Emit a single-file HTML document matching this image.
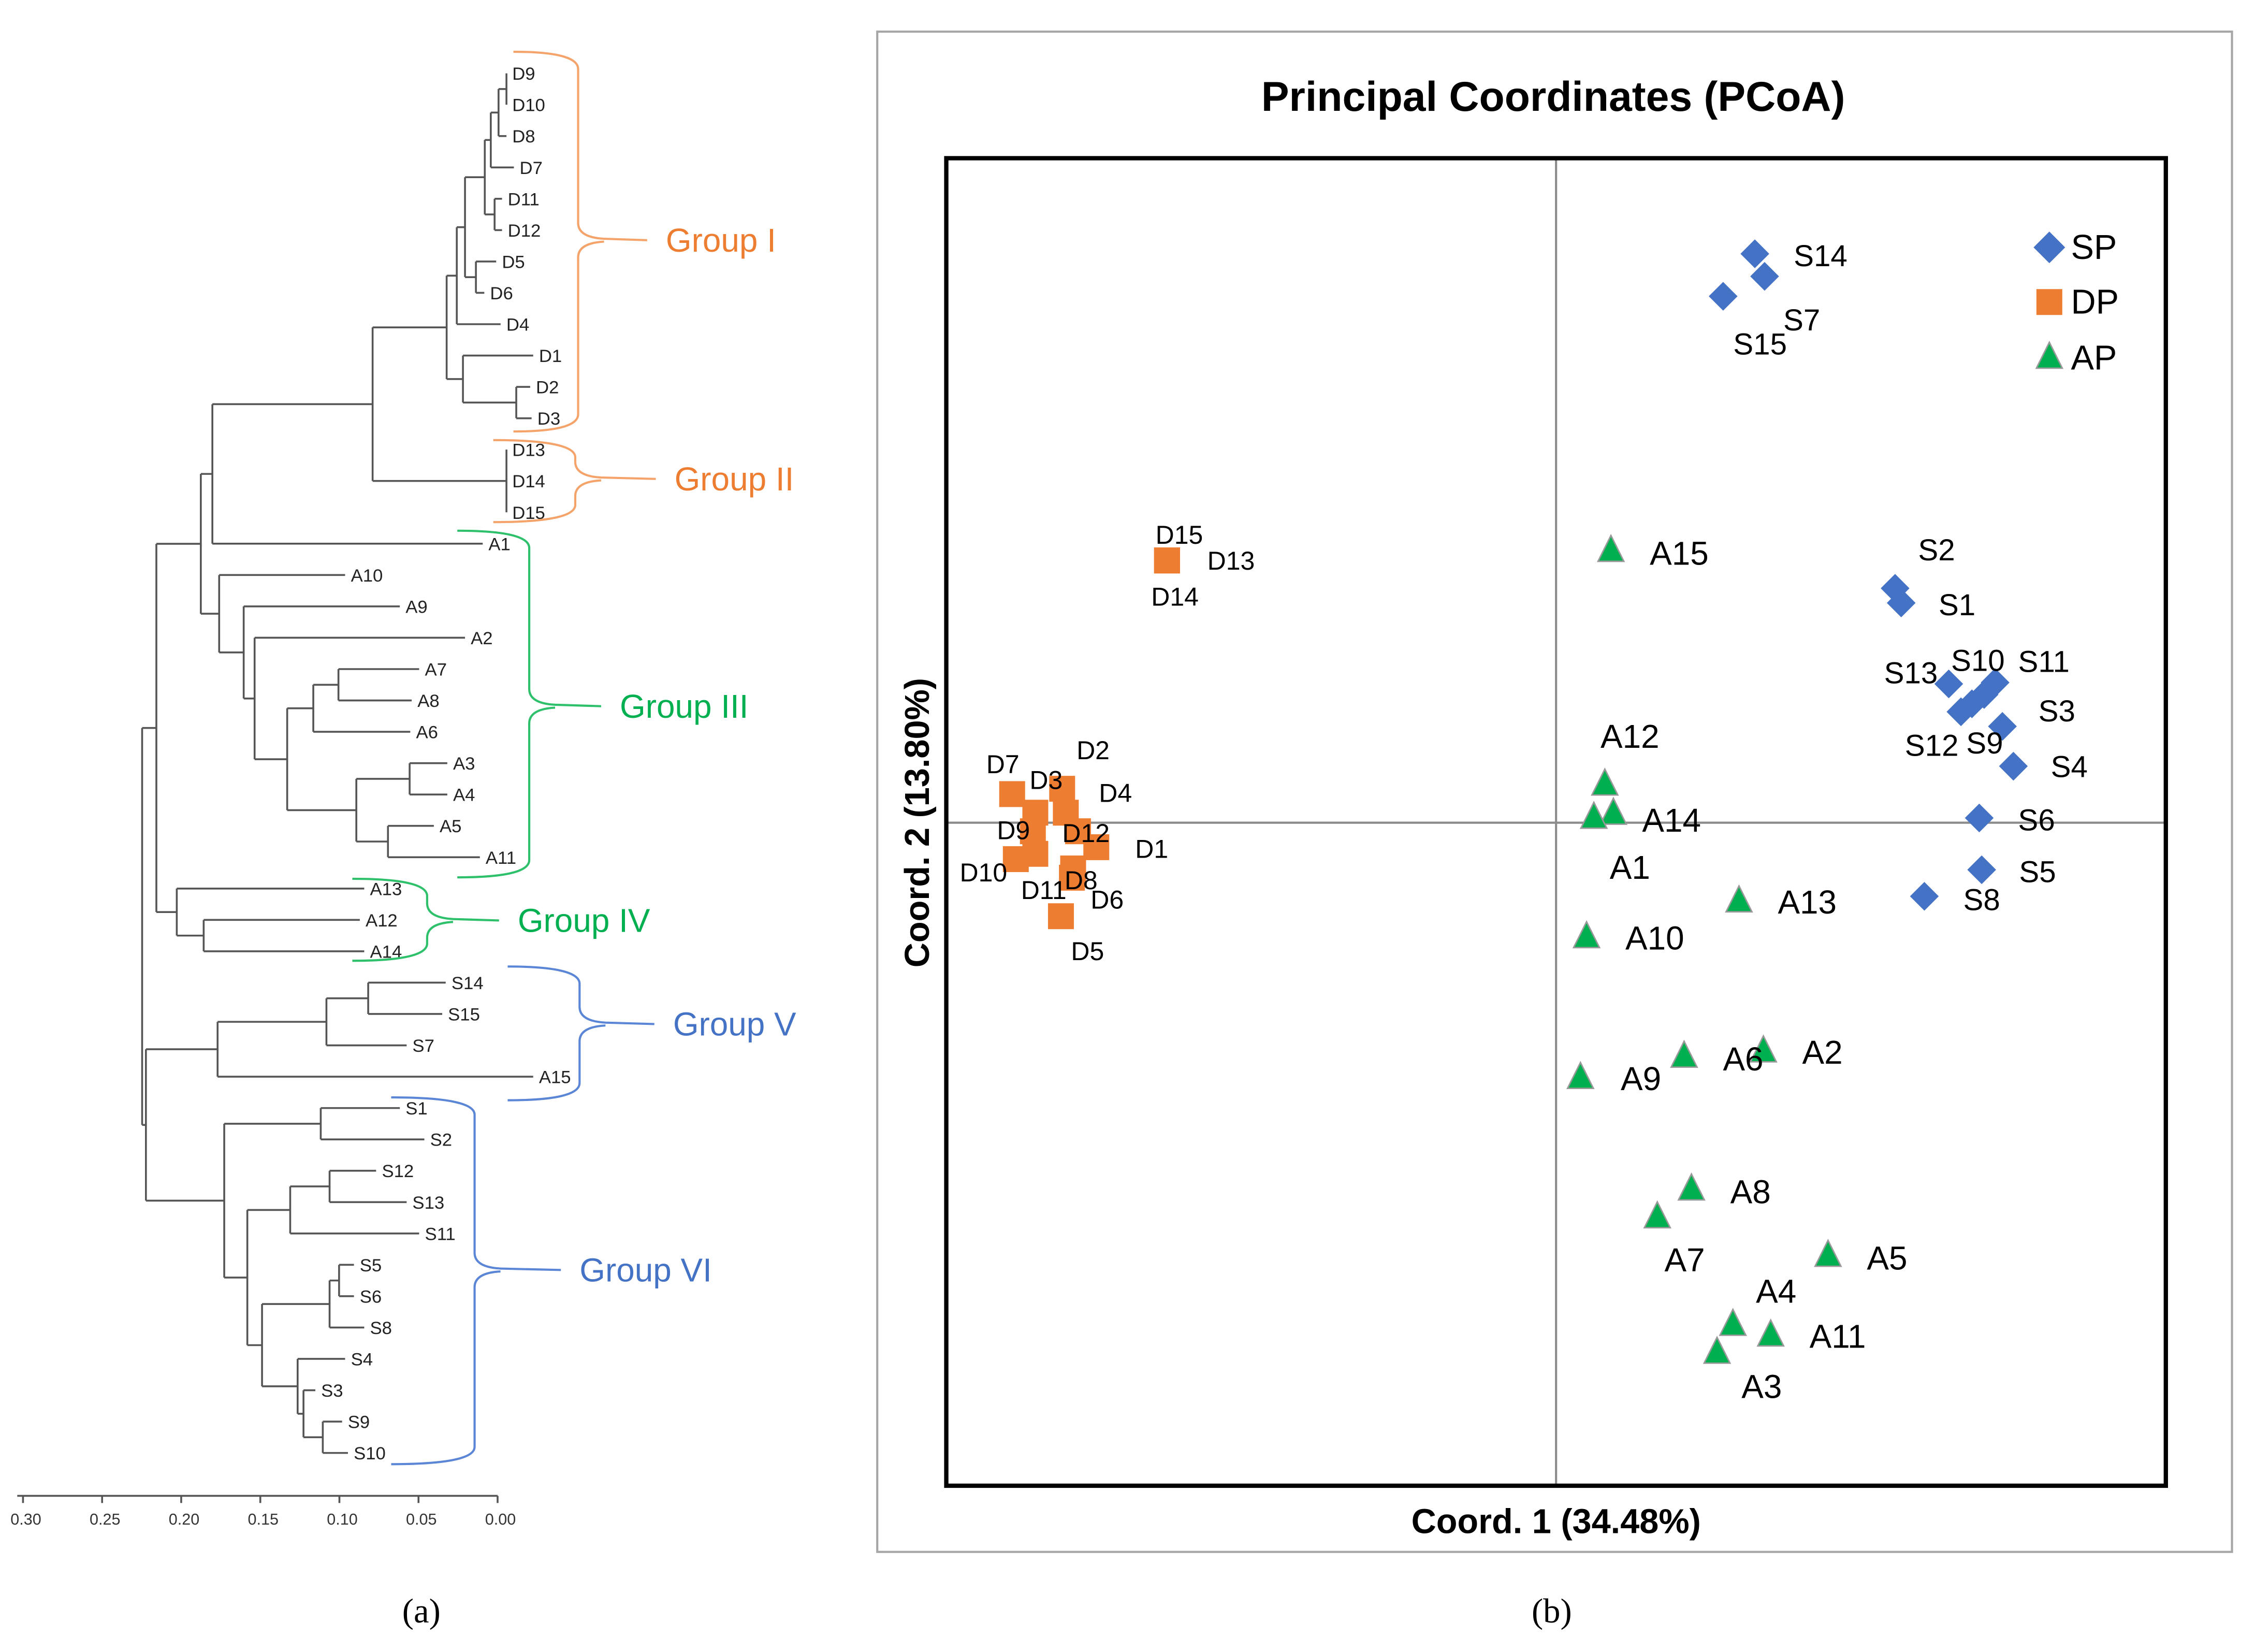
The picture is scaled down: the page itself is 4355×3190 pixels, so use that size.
<!DOCTYPE html>
<html><head><meta charset="utf-8"><style>
html,body{margin:0;padding:0;background:#fff;}
svg{display:block;font-family:"Liberation Sans",sans-serif;}
</style></head><body>
<svg id="fig" xmlns="http://www.w3.org/2000/svg" width="4355" height="3190" viewBox="0 0 1568 1148.6" preserveAspectRatio="none">
<rect x="0" y="0" width="1568" height="1149" fill="#fff"/>
<g id="dendro"></g>
<g id="dendroAxis"></g>
<g id="brackets"></g>
<text x="293" y="1128" font-family="Liberation Serif,serif" font-size="24" text-anchor="middle">(a)</text>
<text x="1079" y="1128" font-family="Liberation Serif,serif" font-size="24" text-anchor="middle">(b)</text>
<rect x="610" y="22" width="942" height="1057" fill="none" stroke="#a6a6a6" stroke-width="1.5"/>
<text x="1080" y="77" font-size="29" font-weight="bold" text-anchor="middle">Principal Coordinates (PCoA)</text>
<line x1="1082" y1="110" x2="1082" y2="1033" stroke="#8c8c8c" stroke-width="1.5"/>
<line x1="658" y1="572" x2="1506" y2="572" stroke="#8c8c8c" stroke-width="1.5"/>
<rect x="658" y="110" width="848" height="923" fill="none" stroke="#000" stroke-width="3"/>
<text x="1082" y="1066" font-size="24" font-weight="bold" text-anchor="middle">Coord. 1 (34.48%)</text>
<text transform="translate(646,572) rotate(-90)" font-size="24" font-weight="bold" text-anchor="middle">Coord. 2 (13.80%)</text>
<g id="points"></g>
<g id="legend">
<polygon points="1425,161 1436,172 1425,183 1414,172" fill="#4472C4"/>
<text x="1440" y="180" font-size="24">SP</text>
<rect x="1416" y="201" width="18" height="18" fill="#ED7D31"/>
<text x="1440" y="218" font-size="24">DP</text>
<polygon points="1425,238 1434,256 1416,256" fill="#00B050" stroke="#999" stroke-width="1"/>
<text x="1440" y="257" font-size="24">AP</text>
</g>
</svg>
<script>
const NS="http://www.w3.org/2000/svg";
// ---- dendrogram data ----
const leafOrder=["D9","D10","D8","D7","D11","D12","D5","D6","D4","D1","D2","D3","D13","D14","D15","A1","A10","A9","A2","A7","A8","A6","A3","A4","A5","A11","A13","A12","A14","S14","S15","S7","A15","S1","S2","S12","S13","S11","S5","S6","S8","S4","S3","S9","S10"];
const leafDist={D9:-0.0056,D10:-0.0056,D8:-0.0056,D7:-0.0103,D11:-0.0028,D12:-0.0028,D5:0.0009,D6:0.0084,D4:-0.0019,D1:-0.0225,D2:-0.0206,D3:-0.0215,D13:-0.0056,D14:-0.0056,D15:-0.0056,A1:0.0094,A10:0.0964,A9:0.0618,A2:0.0206,A7:0.0496,A8:0.0543,A6:0.0552,A3:0.0318,A4:0.0318,A5:0.0403,A11:0.0112,A13:0.0843,A12:0.0871,A14:0.0843,S14:0.0328,S15:0.0350,S7:0.0575,A15:-0.0225,S1:0.0618,S2:0.0463,S12:0.0768,S13:0.0575,S11:0.0496,S5:0.0908,S6:0.0908,S8:0.0843,S4:0.0964,S3:0.1152,S9:0.0983,S10:0.0946};
function N(h,c){return {h:h,c:c};}
const tree=N(0.2247,[
 N(0.2157,[
  N(0.1876,[
   N(0.1803,[
    N(0.0790,[
     N(0.0322,[
      N(0.0258,[N(0.0206,[N(0.0081,[N(0.0043,[N(-0.0006,[N(-0.0056,["D9","D10"]),"D8"]),"D7"]),N(0.0019,["D11","D12"])]),N(0.0137,["D5","D6"])]),"D4"]),
      N(0.0219,["D1",N(-0.0118,["D2","D3"])])]),
     N(-0.0056,["D13","D14","D15"])]),
    "A1"]),
   N(0.1760,["A10",N(0.1605,["A9",N(0.1536,["A2",N(0.1330,[N(0.1165,[N(0.1006,["A7","A8"]),"A6"]),N(0.0893,[N(0.0556,["A3","A4"]),N(0.0693,["A5","A11"])])])])])])]),
  N(0.2028,["A13",N(0.1858,["A12","A14"])])]),
 N(0.2223,[
  N(0.1770,[N(0.1082,[N(0.0818,["S14","S15"]),"S7"]),"A15"]),
  N(0.1728,[N(0.1118,["S1","S2"]),N(0.1582,[N(0.1311,[N(0.1062,["S12","S13"]),"S11"]),N(0.1489,[N(0.1062,[N(0.1002,["S5","S6"]),"S8"]),N(0.1264,["S4",N(0.1227,["S3",N(0.1105,["S9","S10"])])])])])])])]);
const distTicks=[0.30,0.25,0.20,0.15,0.10,0.05,0.00];
const dx=d=>346-d*1100;
const ly=i=>51+i*21.8;
const dg=document.getElementById('dendro');
function line(g,x1,y1,x2,y2,col,w){const l=document.createElementNS(NS,'line');l.setAttribute('x1',x1);l.setAttribute('y1',y1);l.setAttribute('x2',x2);l.setAttribute('y2',y2);l.setAttribute('stroke',col);l.setAttribute('stroke-width',w);g.appendChild(l);return l;}
function draw(n){
 if(typeof n==='string'){return {y:ly(leafOrder.indexOf(n)),x:dx(leafDist[n]),leaf:n};}
 const ch=n.c.map(draw);const x=dx(n.h);
 ch.forEach(c=>{const l=line(dg,x,c.y,c.x,c.y,'#555',1.3);
  
  });
 const y1=ch[0].y,y2=ch[ch.length-1].y;
 const v=line(dg,x,y1,x,y2,'#555',1.3);
 
 
 return {y:(y1+y2)/2,x:x};
}
draw(tree);
leafOrder.forEach((n,i)=>{const t=document.createElementNS(NS,'text');
 t.setAttribute('x',dx(leafDist[n])+4);t.setAttribute('y',ly(i)+4.5);t.setAttribute('font-size','12.5');t.setAttribute('fill','#222');t.textContent=n;
 
 
 dg.appendChild(t);});
const ag=document.getElementById('dendroAxis');
const al=line(ag,dx(0.30)-4,1040,dx(0),1040,'#555',1.3);


distTicks.forEach(v=>{const tk=line(ag,dx(v),1040,dx(v),1045,'#555',1.3);
 
 
 const t=document.createElementNS(NS,'text');t.setAttribute('x',dx(v)+2);t.setAttribute('y',1060);t.setAttribute('font-size','11');t.setAttribute('text-anchor','middle');t.setAttribute('fill','#333');t.textContent=v.toFixed(2);
 
 
 ag.appendChild(t);});
// ---- group brackets ----
const groups=[
 {n:"Group I",xs:357,y1:36,y2:300,xb:402,xt:450,ym:167,c:"#F4A46A",tc:"#ED7D31"},
 {n:"Group II",xs:343,y1:306,y2:363,xb:400,xt:456,ym:333,c:"#F4A46A",tc:"#ED7D31"},
 {n:"Group III",xs:318,y1:369,y2:610,xb:368,xt:418,ym:491,c:"#2EC06A",tc:"#00B050"},
 {n:"Group IV",xs:245,y1:611,y2:668,xb:297,xt:347,ym:640,c:"#2EC06A",tc:"#00B050"},
 {n:"Group V",xs:353,y1:672,y2:765,xb:403,xt:455,ym:712,c:"#5B86D6",tc:"#4472C4"},
 {n:"Group VI",xs:272,y1:763,y2:1018,xb:330,xt:390,ym:883,c:"#5B86D6",tc:"#4472C4"}];
const bg=document.getElementById('brackets');
groups.forEach(g=>{const p=document.createElementNS(NS,'path');
 const {xs,y1,y2,xb,xt,ym}=g;
 p.setAttribute('d',`M${xs},${y1} Q${xb},${y1} ${xb},${y1+12} L${xb},${ym-12} Q${xb},${ym-2} ${xb+18},${ym-1} L${xt},${ym} M${xb+18},${ym+1} Q${xb},${ym+2} ${xb},${ym+12} L${xb},${y2-12} Q${xb},${y2} ${xs},${y2}`);
 p.setAttribute('fill','none');p.setAttribute('stroke',g.c);p.setAttribute('stroke-width','1.5');
 
 
 bg.appendChild(p);
 const t=document.createElementNS(NS,'text');t.setAttribute('x',xt+13);t.setAttribute('y',ym+8);t.setAttribute('font-size','23');t.setAttribute('fill',g.tc);t.textContent=g.n;
 
 
 bg.appendChild(t);});
// ---- PCoA data ----
const spNames=["S14","S7","S15","S2","S1","S13","S11","S10","S9","S12","S3","S4","S6","S5","S8"];
const spX=[0.163,0.171,0.137,0.278,0.283,0.322,0.360,0.351,0.341,0.332,0.366,0.375,0.347,0.349,0.302];
const spY=[0.428,0.411,0.396,0.176,0.165,0.104,0.105,0.096,0.089,0.083,0.072,0.042,0.003,-0.036,-0.056];
const dpNames=["D15","D13","D14","D7","D3","D2","D4","D9","D12","D1","D10","D11","D8","D6","D5"];
const dpX=[-0.319,-0.319,-0.319,-0.446,-0.427,-0.405,-0.402,-0.429,-0.392,-0.377,-0.443,-0.427,-0.396,-0.397,-0.406];
const dpY=[0.197,0.197,0.197,0.021,0.007,0.025,0.007,-0.007,-0.007,-0.019,-0.028,-0.024,-0.035,-0.042,-0.071];
const apNames=["A15","A12","A14","A1","A13","A10","A2","A6","A9","A8","A7","A5","A4","A11","A3"];
const apX=[0.045,0.040,0.047,0.031,0.150,0.025,0.170,0.105,0.020,0.111,0.083,0.223,0.145,0.176,0.132];
const apY=[0.205,0.029,0.007,0.004,-0.059,-0.086,-0.172,-0.176,-0.192,-0.276,-0.297,-0.326,-0.378,-0.386,-0.399];
const px=v=>1082+v*848;
const py=v=>571.5-v*923;
// label offsets (styling only)
const lblOff={S14:[27,1],S7:[13,30],S15:[7,33],S2:[16,-27],S1:[26,1],S13:[-45,-8],S11:[16,-15],S10:[-23,-24],S9:[-4,27],S12:[-39,23],S3:[25,-11],S4:[26,0],S6:[27,1],S5:[26,1],S8:[27,2],
 D15:[-8,-18],D13:[28,0],D14:[-11,25],D7:[-18,-21],D3:[-4,-23],D2:[10,-27],D4:[23,-14],D9:[-25,-1],D12:[-11,1],D1:[27,1],D10:[-39,9],D11:[-10,25],D8:[-6,8],D6:[13,15],D5:[7,24],
 A15:[27,2],A12:[-3,-33],A14:[20,5],A1:[11,35],A13:[27,1],A10:[27,1],A2:[27,1],A6:[27,2],A9:[28,1],A8:[27,2],A7:[5,30],A5:[27,2],A4:[16,-23],A11:[27,1],A3:[17,24]};
const pg=document.getElementById('points');
function lab(n,x,y,fs){const o=lblOff[n];const t=document.createElementNS(NS,'text');t.setAttribute('x',x+o[0]);t.setAttribute('y',y+o[1]+fs*0.36);t.setAttribute('font-size',fs);t.textContent=n;
 
 
 pg.appendChild(t);}
dpNames.forEach((n,i)=>{const x=px(dpX[i]),y=py(dpY[i]);const r=document.createElementNS(NS,'rect');
 r.setAttribute('x',x-9);r.setAttribute('y',y-9);r.setAttribute('width',18);r.setAttribute('height',18);r.setAttribute('fill','#ED7D31');
 
 
 pg.appendChild(r);});
apNames.forEach((n,i)=>{const x=px(apX[i]),y=py(apY[i]);const p=document.createElementNS(NS,'polygon');
 p.setAttribute('points',`${x},${y-10} ${x+9},${y+8} ${x-9},${y+8}`);p.setAttribute('fill','#00B050');p.setAttribute('stroke','#999');p.setAttribute('stroke-width','1');
 
 
 pg.appendChild(p);});
spNames.forEach((n,i)=>{const x=px(spX[i]),y=py(spY[i]);const p=document.createElementNS(NS,'polygon');
 p.setAttribute('points',`${x},${y-10} ${x+10},${y} ${x},${y+10} ${x-10},${y}`);p.setAttribute('fill','#4472C4');
 
 
 pg.appendChild(p);});
dpNames.forEach((n,i)=>lab(n,px(dpX[i]),py(dpY[i]),18));
apNames.forEach((n,i)=>lab(n,px(apX[i]),py(apY[i]),23));
spNames.forEach((n,i)=>lab(n,px(spX[i]),py(spY[i]),21));
</script>
</body></html>
